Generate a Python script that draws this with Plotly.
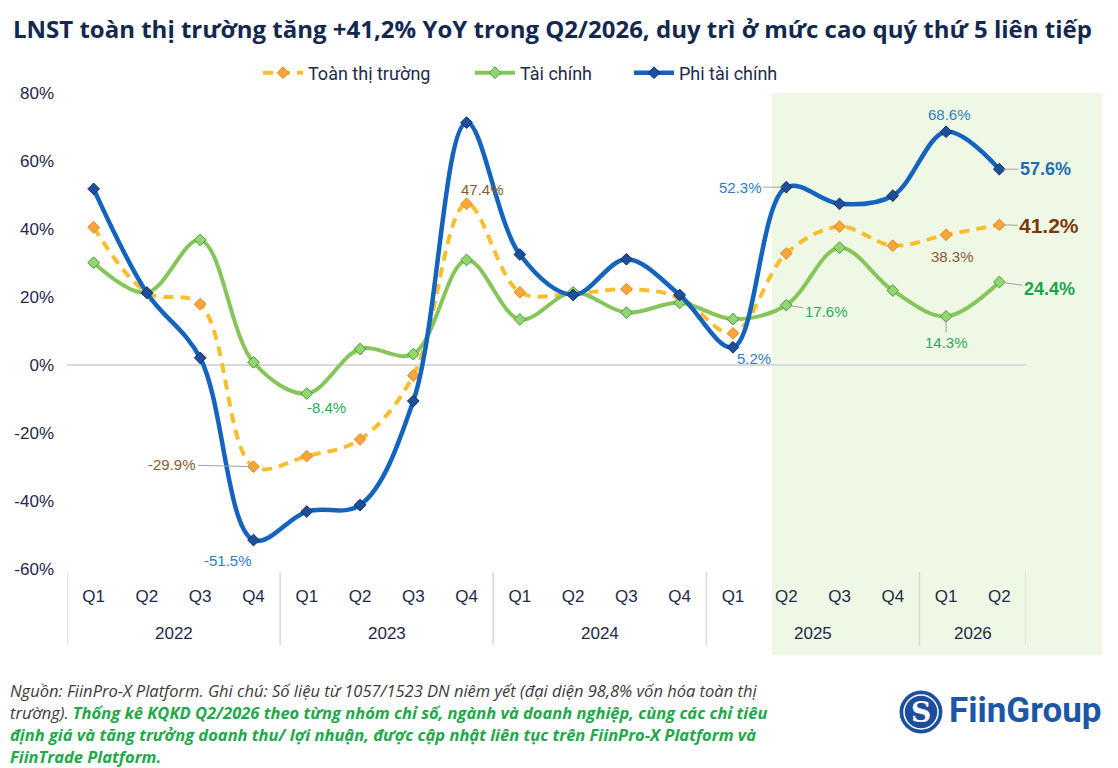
import plotly.graph_objects as go

# Data (LNST growth YoY, %)
years = ["2022"] * 4 + ["2023"] * 4 + ["2024"] * 4 + ["2025"] * 4 + ["2026"] * 2
quarters = ["Q1", "Q2", "Q3", "Q4"] * 4 + ["Q1", "Q2"]

toan_thi_truong = [40.5, 21.3, 17.9, -29.9, -26.8, -21.9, -3.1, 47.4, 21.4,
                   21.0, 22.3, 19.9, 9.3, 32.8, 40.7, 35.1, 38.3, 41.2]
tai_chinh = [30.1, 21.3, 36.8, 0.8, -8.4, 4.7, 3.2, 30.9, 13.4,
             21.4, 15.4, 18.3, 13.5, 17.6, 34.5, 21.9, 14.3, 24.4]
phi_tai_chinh = [51.8, 21.2, 2.1, -51.5, -43.1, -41.2, -10.6, 71.3, 32.5,
                 20.6, 31.1, 20.6, 5.2, 52.3, 47.4, 49.8, 68.6, 57.6]

series_names = ["Toàn thị trường", "Tài chính", "Phi tài chính"]
y_ticks = [80, 60, 40, 20, 0, -20, -40, -60]

periods = [f"{q}/{y}" for y, q in zip(years, quarters)]

# page geometry in reference pixels; the browser page adds an 8px body margin
OFF = 8
W, H = 1118 - OFF, 768 - OFF
L, T = 67, 93          # plot area left/top (reference px)
PR, PB = 1026, 569     # plot area right/bottom (reference px)
PW, PH = PR - L, PB - T


def px_x(x):
    return (x - L) / PW


def px_y(y):
    return (PB - y) / PH


NAVY = "#1E2A4A"
fig = go.Figure()

fig.add_trace(go.Scatter(
    x=periods, y=toan_thi_truong, name=series_names[0], legend="legend",
    mode="lines+markers", line=dict(color="#F9BE2E", width=4, dash="10px,7px", shape="spline"),
    marker=dict(symbol="diamond", size=9, color="#F8A53C", line=dict(color="#E28A1C", width=1)),
))
fig.add_trace(go.Scatter(
    x=periods, y=tai_chinh, name=series_names[1], legend="legend2",
    mode="lines+markers", line=dict(color="#86C55A", width=4, shape="spline"),
    marker=dict(symbol="diamond", size=9, color="#93D56E", line=dict(color="#3E9E3A", width=1)),
))
fig.add_trace(go.Scatter(
    x=periods, y=phi_tai_chinh, name=series_names[2], legend="legend3",
    mode="lines+markers", line=dict(color="#1464BE", width=4.5, shape="spline"),
    marker=dict(symbol="diamond", size=9, color="#1F4F9A", line=dict(color="#0B2F66", width=1)),
))

BROWN, BLUE, GREEN = "#8C5A30", "#2E7EC0", "#2BAA5A"
series = [toan_thi_truong, tai_chinh, phi_tai_chinh]
# (series index, point index, color, dx, dy, leader line, font size, bold)
labels = [
    (0, 3, BROWN, -81, -2, True, 15, False),
    (2, 3, BLUE, -25, 20, False, 15, False),
    (1, 4, GREEN, 20, 14, False, 15, False),
    (0, 7, BROWN, 16, -14, False, 15, False),
    (2, 13, BLUE, -46, 0, True, 15, False),
    (2, 12, BLUE, 21, 11, False, 15, False),
    (1, 13, GREEN, 40, 6, True, 15, False),
    (2, 16, BLUE, 3, -17, False, 15, False),
    (0, 16, BROWN, 6, 22, False, 15, False),
    (1, 16, GREEN, 0, 26, True, 15, False),
    (2, 17, "#1F6DB3", 46, 0, True, 18, True),
    (0, 17, "#7A3A0E", 50, 1, True, 21, True),
    (1, 17, "#1DA34F", 50, 7, True, 18, True),
]
for s, i, col, dx, dy, leader, size, bold in labels:
    v = series[s][i]
    txt = f"{v:.1f}%"
    if bold:
        txt = f"<b>{txt}</b>"
    if leader:
        fig.add_annotation(x=i, y=v, xref="x", yref="y", text=txt, showarrow=True,
                           ax=dx, ay=dy, arrowhead=0, arrowwidth=1, arrowcolor="#A0A0A0",
                           standoff=4, font=dict(family="Liberation Sans", size=size, color=col))
    else:
        fig.add_annotation(x=i, y=v, xref="x", yref="y", text=txt, showarrow=False,
                           xshift=dx, yshift=-dy,
                           font=dict(family="Liberation Sans", size=size, color=col))

# shaded recent period
fig.add_shape(type="rect", xref="paper", yref="paper", layer="below",
              x0=px_x(772), x1=px_x(1102), y0=px_y(655), y1=1,
              fillcolor="#EFF8E4", line_width=0)

# year labels and dividers under the quarter ticks
year_list = list(dict.fromkeys(years))
bounds = [-0.5]
for yr in year_list:
    idx = [i for i, y in enumerate(years) if y == yr]
    fig.add_annotation(x=(idx[0] + idx[-1]) / 2, y=px_y(633), xref="x", yref="paper",
                       yanchor="middle", text=yr, showarrow=False,
                       font=dict(family="Liberation Sans", size=17, color=NAVY))
    bounds.append(idx[-1] + 0.5)
for b in bounds:
    fig.add_shape(type="line", xref="x", yref="paper", x0=b, x1=b,
                  y0=px_y(572), y1=px_y(645), line=dict(color="#D9D9D9", width=1.5))

# footer
footer = [
    "<i>Nguồn: FiinPro-X Platform. Ghi chú: Số liệu từ 1057/1523 DN niêm yết (đại diện 98,8% vốn hóa toàn thị</i>",
    "<i>trường). <b><span style='color:#22A84A'>Thống kê KQKD Q2/2026 theo từng nhóm chỉ số, ngành và doanh nghiệp, cùng các chỉ tiêu</span></b></i>",
    "<i><b><span style='color:#22A84A'>định giá và tăng trưởng doanh thu/ lợi nhuận, được cập nhật liên tục trên FiinPro-X Platform và</span></b></i>",
    "<i><b><span style='color:#22A84A'>FiinTrade Platform.</span></b></i>",
]
for k, line in enumerate(footer):
    fig.add_annotation(x=px_x(8), y=px_y(690 + k * 22.3), xref="paper", yref="paper",
                       xanchor="left", yanchor="middle", showarrow=False, text=line,
                       font=dict(family="Open Sans", size=16.5, color="#3A3A3A"))

# logo
fig.add_shape(type="circle", xref="paper", yref="paper",
              x0=px_x(900), x1=px_x(942), y0=px_y(733), y1=px_y(691),
              fillcolor="#1C4E9D", line=dict(color="#1C4E9D", width=1))
fig.add_shape(type="circle", xref="paper", yref="paper",
              x0=px_x(904), x1=px_x(938), y0=px_y(729), y1=px_y(695),
              fillcolor="#1C4E9D", line=dict(color="white", width=1.5))
fig.add_annotation(x=px_x(921), y=px_y(712), xref="paper", yref="paper", showarrow=False,
                   xanchor="center", yanchor="middle",
                   text="<b>S</b>", font=dict(family="DejaVu Serif", size=28, color="white"))
fig.add_annotation(x=px_x(947), y=px_y(710), xref="paper", yref="paper", showarrow=False,
                   xanchor="left", yanchor="middle", text="<b>FiinGroup</b>",
                   font=dict(family="Roboto", size=35, color="#1C56A6"))

legend_style = dict(orientation="h", xanchor="left", y=px_y(73), yanchor="middle",
                    font=dict(family="Roboto", size=18, color=NAVY), itemwidth=40,
                    bgcolor="rgba(0,0,0,0)")

fig.update_layout(
    width=W, height=H,
    margin=dict(l=L - OFF, r=W - (PR - OFF), t=T - OFF, b=H - (PB - OFF), autoexpand=False),
    paper_bgcolor="white", plot_bgcolor="rgba(0,0,0,0)",
    title=dict(text="<b>LNST toàn thị trường tăng +41,2% YoY trong Q2/2026, duy trì ở mức cao quý thứ 5 liên tiếp</b>",
               x=(13 - OFF) / W, xanchor="left", y=1 - (30 - OFF) / H, yanchor="middle",
               font=dict(family="Open Sans", size=24, color="#13284F")),
    showlegend=True,
    legend=dict(legend_style, x=px_x(258)),
    legend2=dict(legend_style, x=px_x(470)),
    legend3=dict(legend_style, x=px_x(629)),
    font=dict(family="Liberation Sans", color=NAVY),
)
fig.update_yaxes(range=[-60, 80], tickmode="array", tickvals=y_ticks,
                 ticktext=[f"{v}%" for v in y_ticks], showgrid=False,
                 zeroline=True, zerolinecolor="#D9D9D9", zerolinewidth=1.5,
                 tickfont=dict(family="Liberation Sans", size=17, color=NAVY), ticks="",
                 showline=False, ticklabelstandoff=12)
fig.update_xaxes(range=[-0.5, len(periods) - 0.5], tickmode="array", tickvals=periods,
                 ticktext=quarters, showgrid=False, showline=False, ticks="",
                 ticklabelstandoff=15,
                 tickfont=dict(family="Liberation Sans", size=17, color=NAVY))

fig.write_html("out.html")
